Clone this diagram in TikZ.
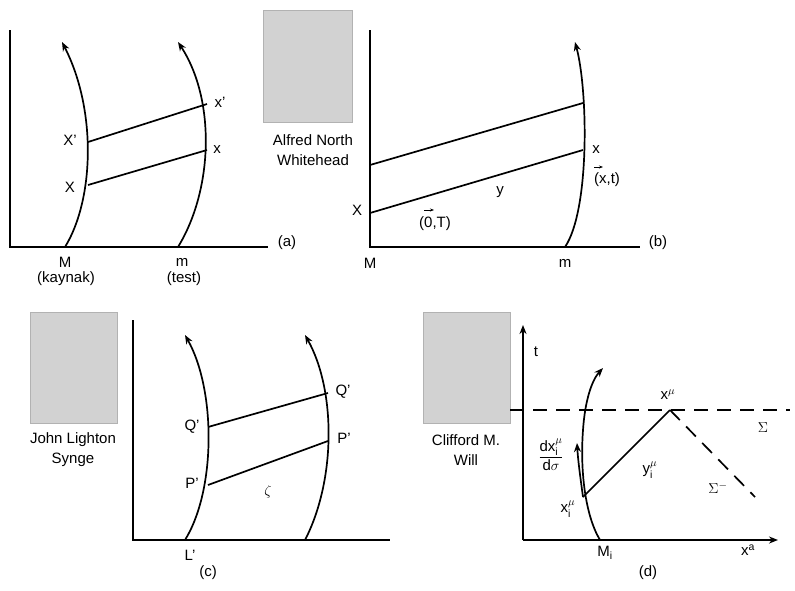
\documentclass[tikz,border=0pt]{standalone}
\usepackage{fontspec}
\setmainfont{Liberation Sans}
\usetikzlibrary{arrows.meta}
\begin{document}
\begin{tikzpicture}[x=1pt,y=-1pt,line width=1.7pt,
  lbl/.style={font=\fontsize{15}{17}\selectfont,inner sep=1pt},
  wl/.style={-{Stealth[length=9pt,width=7pt]}},
  photo/.style={draw=gray!60,fill=gray!35,line width=0.5pt}]
\useasboundingbox (0,0) rectangle (795,590);
% (a)
\draw (10,30) -- (10,247) -- (268,247);
\coordinate (aX) at (88,185); \coordinate (aXp) at (88,142);
\coordinate (ax) at (207,150); \coordinate (axp) at (207,104);
\draw[wl] (65,247) .. controls (94,200) and (97,110) .. (62,42);
\draw[wl] (178,247) .. controls (213,190) and (216,100) .. (178,42);
\draw (aX) -- (ax); \draw (aXp) -- (axp);
\node[lbl] at (70,140) {X'}; \node[lbl] at (70,187) {X};
\node[lbl] at (220,102) {x'}; \node[lbl] at (217,150) {x};
\node[lbl] at (65,262) {M}; \node[lbl] at (66,279) {(kaynak)};
\node[lbl] at (182,262) {m}; \node[lbl] at (184,279) {(test)};
\node[lbl] at (287,243) {(a)};
\draw[photo] (263,10) rectangle (352,122);
\node[lbl] at (313,140) {Alfred North}; \node[lbl] at (313,160) {Whitehead};
% (b)
\draw (370,30) -- (370,247) -- (640,247);
\draw[wl] (565,247) .. controls (590,210) and (588,90) .. (575,42);
\draw (370,213) -- (583,150); \draw (370,165) -- (583,103);
\node[lbl] at (357,210) {X}; \node[lbl] at (596,150) {x};
\node[lbl] at (607,180) {(x,t)};
\draw[-{Stealth[length=4pt]},line width=0.8pt] (594,167) -- (603,167);
\node[lbl] at (500,192) {y};
\node[lbl] at (435,224) {(0,T)};
\draw[-{Stealth[length=4pt]},line width=0.8pt] (424,210) -- (434,210);
\node[lbl] at (370,263) {M}; \node[lbl] at (565,263) {m};
\node[lbl] at (658,243) {(b)};
% (c)
\draw[photo] (30,312) rectangle (117,423);
\node[lbl] at (73,440) {John Lighton}; \node[lbl] at (73,460) {Synge};
\draw (133,320) -- (133,540) -- (390,540);
\draw[wl] (185,540) .. controls (216,490) and (216,390) .. (185,335);
\draw[wl] (305,540) .. controls (336,480) and (336,390) .. (305,335);
\draw (208,485) -- (328,441); \draw (208,427) -- (328,393);
\node[lbl] at (192,427) {Q'}; \node[lbl] at (192,483) {P'};
\node[lbl] at (343,392) {Q'}; \node[lbl] at (344,438) {P'};
\node[lbl] at (268,492) {$\zeta$};
\node[lbl] at (190,555) {L'}; \node[lbl] at (208,573) {(c)};
% (d)
\draw[photo] (423,312) rectangle (510,423);
\node[lbl] at (466,440) {Clifford M.}; \node[lbl] at (466,460) {Will};
\draw[-{Stealth[length=9pt,width=7pt]}] (523,540) -- (523,325);
\draw[-{Stealth[length=9pt,width=7pt]}] (523,540) -- (778,540);
\coordinate (xi) at (583,497); \coordinate (xm) at (670,410);
\draw[wl] (600,540) .. controls (585,515) and (580,470) .. (583,430) .. controls (585,400) and (592,380) .. (603,368);
\draw[wl] (xi) .. controls (580,475) and (578,460) .. (577,443);
\draw[dashed,dash pattern=on 14pt off 9pt] (510,410) -- (790,410);
\draw (xi) -- (xm);
\draw[dashed,dash pattern=on 14pt off 9pt] (xm) -- (755,497);
\node[lbl] at (536,352) {t};
\node[lbl] at (668,395) {x$^{\mu}$};
\node[lbl] at (763,428) {$\Sigma$};
\node[lbl] at (650,470) {y$_{\mathrm i}^{\mu}$};
\node[lbl] at (718,488) {$\Sigma^{-}$};
\node[lbl] at (551,455) {$\displaystyle\frac{\textrm{dx}_{\mathrm i}^{\mu}}{\textrm{d}\sigma}$};
\node[lbl] at (568,509) {x$_{\mathrm i}^{\mu}$};
\node[lbl] at (605,553) {M$_{\mathrm i}$};
\node[lbl] at (748,550) {x$^{\mathrm a}$};
\node[lbl] at (648,573) {(d)};
\end{tikzpicture}
\end{document}
